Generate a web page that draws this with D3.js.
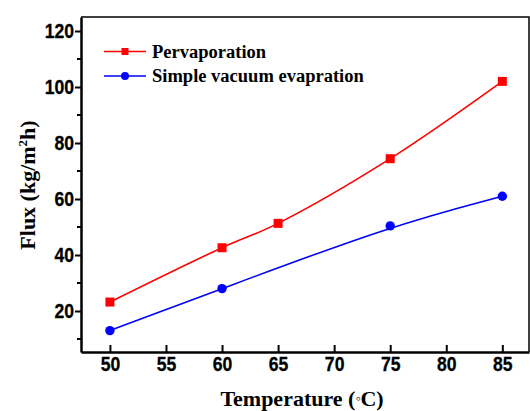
<!DOCTYPE html>
<html>
<head>
<meta charset="utf-8">
<script src="https://cdn.jsdelivr.net/npm/d3@7"></script>
<style>
  body { margin: 0; background: #fff; }
  svg { display: block; }
</style>
</head>
<body>
<script>
// data
var temps = [50, 60, 65, 75, 85]
var pervap = [23.2, 42.6, 51.3, 74.4, 102.0]
var vacTemps = [50, 60, 75, 85]
var vacuum = [13.0, 28.0, 50.4, 61.0]
var xTicks = [50, 55, 60, 65, 70, 75, 80, 85]
var yTicks = [20, 40, 60, 80, 100, 120]
var yMinor = [10, 30, 50, 70, 90, 110]
var seriesNames = ['Pervaporation', 'Simple vacuum evapration']

var W = 530, H = 411
var margin = {left: 81, right: 1, top: 17, bottom: 59}
var width = W - margin.left - margin.right
var height = H - margin.top - margin.bottom

var svg = d3.select('body').append('svg').attr('width', W).attr('height', H)
var g = svg.append('g').attr('transform', 'translate(' + margin.left + ',' + margin.top + ')')

var x = d3.scaleLinear().domain([47.42, 87.38]).range([0, width])
var y = d3.scaleLinear().domain([5.36, 125]).range([height, 0])

var tickFont = '"Liberation Sans", Arial, sans-serif'
var serif = '"Liberation Serif", "Times New Roman", serif'
var squeeze = 0.88

function styleTicks(sel){
  sel.selectAll('text')
    .attr('font-family', tickFont).attr('font-weight', 'bold')
    .attr('font-size', 20).attr('fill', '#000')
    .attr('stroke', '#000').attr('stroke-width', 0.3)
    .each(function(){
      var t = d3.select(this)
      t.attr('x', (+t.attr('x') || 0) / squeeze)
       .attr('transform', 'scale(' + squeeze + ',1)')
    })
}

// frame (top/right)
g.append('path')
  .attr('d', 'M0,0H' + width + 'V' + height)
  .attr('fill', 'none').attr('stroke', '#000').attr('stroke-width', 1.5)

// x axis, ticks pointing inward
var xAxis = g.append('g').attr('transform', 'translate(0,' + height + ')')
  .call(d3.axisBottom(x).tickValues(xTicks).tickSizeInner(-7).tickSizeOuter(0).tickPadding(5))
xAxis.select('.domain').attr('stroke-width', 2.5)
xAxis.selectAll('.tick line').attr('stroke-width', 2)
styleTicks(xAxis)

// y axis, ticks pointing outward
var yAxis = g.append('g')
  .call(d3.axisLeft(y).tickValues(yTicks).tickSizeInner(6).tickSizeOuter(0).tickPadding(1))
yAxis.select('.domain').attr('stroke-width', 2.5)
yAxis.selectAll('.tick line').attr('stroke-width', 2)
styleTicks(yAxis)

g.append('g').selectAll('line').data(yMinor).enter().append('line')
  .attr('x1', -4).attr('x2', 0)
  .attr('y1', d => y(d)).attr('y2', d => y(d))
  .attr('stroke', '#000').attr('stroke-width', 2)

// curves
var redPts = temps.map((t, i) => [t, pervap[i]])
var bluePts = vacTemps.map((t, i) => [t, vacuum[i]])

g.append('path')
  .attr('d', d3.line().x(d => x(d[0])).y(d => y(d[1])).curve(d3.curveCatmullRom)(redPts))
  .attr('fill', 'none').attr('stroke', '#ff0000').attr('stroke-width', 1.6)
g.append('path')
  .attr('d', d3.line().x(d => x(d[0])).y(d => y(d[1])).curve(d3.curveBasis)(bluePts))
  .attr('fill', 'none').attr('stroke', '#0000ff').attr('stroke-width', 1.6)

g.append('g').selectAll('rect').data(redPts).enter().append('rect')
  .attr('x', d => x(d[0]) - 4.5).attr('y', d => y(d[1]) - 4.5)
  .attr('width', 9).attr('height', 9).attr('fill', '#ff0000')
g.append('g').selectAll('circle').data(bluePts).enter().append('circle')
  .attr('cx', d => x(d[0])).attr('cy', d => y(d[1])).attr('r', 4.7)
  .attr('fill', '#0000ff')

// legend
var legend = svg.append('g')
var legY = [51.5, 76]
var legColors = ['#ff0000', '#0000ff']
seriesNames.forEach(function(name, i){
  var lg = legend.append('g').attr('transform', 'translate(0,' + legY[i] + ')')
  lg.append('line').attr('x1', 104).attr('x2', 146).attr('y1', 0).attr('y2', 0)
    .attr('stroke', legColors[i]).attr('stroke-width', 1.5)
  if (i === 0) {
    lg.append('rect').attr('x', 121.5).attr('y', -3.5).attr('width', 7).attr('height', 7).attr('fill', legColors[i])
  } else {
    lg.append('circle').attr('cx', 125).attr('cy', 0).attr('r', 4).attr('fill', legColors[i])
  }
  lg.append('text').attr('x', 152).attr('y', 6)
    .attr('font-family', serif).attr('font-weight', 'bold').attr('font-size', 18.5)
    .text(name)
})

// axis titles
var xt = svg.append('text').attr('x', 302).attr('y', 406).attr('text-anchor', 'middle')
  .attr('font-family', serif).attr('font-weight', 'bold').attr('font-size', 22)
xt.append('tspan').text('Temperature (')
xt.append('tspan').attr('font-size', 14).attr('dy', -3).text('\u25E6')
xt.append('tspan').attr('dy', 3).text('C)')

var yt = svg.append('text').attr('transform', 'translate(35,185) rotate(-90)').attr('text-anchor', 'middle')
  .attr('font-family', serif).attr('font-weight', 'bold').attr('font-size', 22)
yt.append('tspan').text('Flux (kg/m')
yt.append('tspan').attr('font-size', 13).attr('dy', -8).text('2')
yt.append('tspan').attr('dy', 8).text('h)')
</script>
</body>
</html>
